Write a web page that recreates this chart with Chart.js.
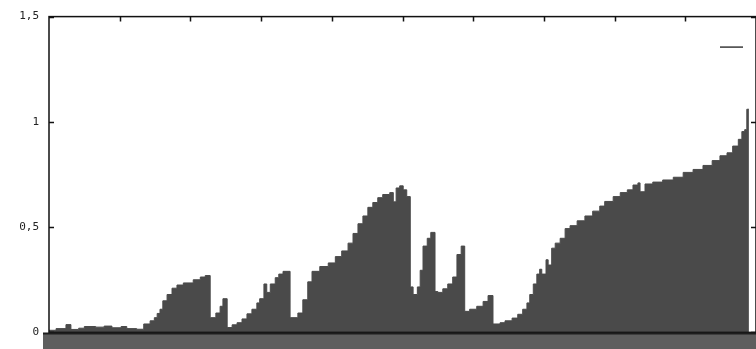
<!DOCTYPE html>
<html>
<head>
<meta charset="utf-8">
<script src="https://cdn.jsdelivr.net/npm/chart.js@4.4.1/dist/chart.umd.min.js"></script>
<style>
  html, body { margin: 0; padding: 0; background: #fff; }
  canvas { display: block; }
</style>
</head>
<body>
<canvas id="chart" width="756" height="349"></canvas>
<script>
// start of each step on the x axis (0..100) and its height
const binStart = [
  0, 1.0, 2.4, 3.1, 4.2, 5.0, 6.6, 7.8, 8.9, 10.2, 11.0, 12.4, 13.4, 14.3, 14.9, 15.3,
  15.7, 16.1, 16.7, 17.4, 18.1, 19.0, 20.4, 21.4, 22.1, 22.8, 23.6, 24.2, 24.6, 25.2,
  25.9, 26.6, 27.3, 28.0, 28.7, 29.4, 29.8, 30.4, 30.8, 31.3, 32.0, 32.5, 33.1, 34.1,
  35.2, 35.9, 36.6, 37.2, 38.3, 39.5, 40.5, 41.4, 42.3, 43.0, 43.7, 44.4, 45.1, 45.8,
  46.5, 47.2, 48.2, 48.7, 49.1, 49.6, 50.1, 50.6, 51.1, 51.5, 52.1, 52.5, 52.9, 53.5,
  54.0, 54.6, 55.0, 55.7, 56.4, 57.1, 57.7, 58.3, 58.8, 59.5, 60.5, 61.4, 62.1, 62.8,
  63.8, 64.5, 65.5, 66.3, 67.0, 67.6, 68.0, 68.5, 69.0, 69.4, 69.7, 70.3, 70.6, 71.1,
  71.6, 72.3, 73.0, 73.7, 74.7, 75.8, 76.9, 77.9, 78.6, 79.8, 80.8, 81.8, 82.6, 83.3,
  83.6, 84.3, 85.4, 86.8, 88.3, 89.7, 91.1, 92.5, 93.8, 94.9, 95.9, 96.7, 97.5, 98.0,
  98.4, 98.7, 99.0
];
const binValue = [
  0.01, 0.018, 0.037, 0.014, 0.02, 0.028, 0.025, 0.03, 0.022, 0.028, 0.018, 0.015, 0.04, 0.055, 0.07, 0.09,
  0.11, 0.15, 0.18, 0.21, 0.225, 0.235, 0.25, 0.263, 0.27, 0.07, 0.092, 0.124, 0.16, 0.023,
  0.036, 0.046, 0.064, 0.088, 0.11, 0.14, 0.16, 0.23, 0.19, 0.23, 0.26, 0.277, 0.29, 0.07,
  0.092, 0.155, 0.24, 0.29, 0.313, 0.33, 0.36, 0.387, 0.424, 0.47, 0.516, 0.553, 0.594, 0.617,
  0.64, 0.655, 0.664, 0.62, 0.686, 0.696, 0.677, 0.645, 0.216, 0.18, 0.216, 0.295, 0.41, 0.447,
  0.475, 0.194, 0.19, 0.207, 0.23, 0.263, 0.37, 0.41, 0.1, 0.11, 0.124, 0.147, 0.175, 0.04,
  0.046, 0.055, 0.068, 0.086, 0.11, 0.14, 0.18, 0.23, 0.277, 0.3, 0.277, 0.345, 0.32, 0.4,
  0.424, 0.447, 0.493, 0.507, 0.53, 0.553, 0.576, 0.6, 0.622, 0.645, 0.664, 0.677, 0.7, 0.71,
  0.668, 0.705, 0.714, 0.724, 0.737, 0.76, 0.774, 0.793, 0.816, 0.839, 0.853, 0.885, 0.917, 0.954,
  0.963, 1.06, 1.06
];
const yTickValues = [0, 0.5, 1, 1.5];
const yTickLabels = ['0', '0,5', '1', '1,5'];
const xTickValues = [10, 20, 30, 40, 50, 60, 70, 80, 90];

const fillColor = '#4a4a4a';

const points = binStart.map((x, i) => ({ x: x, y: binValue[i] }));

// gnuplot style frame: box, inward ticks, empty key sample, grey strip under the axis
const framePlugin = {
  id: 'frame',
  afterDatasetsDraw(chart) {
    const ctx = chart.ctx;
    const a = chart.chartArea;
    const xs = chart.scales.x;
    const ys = chart.scales.y;
    ctx.save();

    ctx.strokeStyle = '#111';
    ctx.lineWidth = 1.5;
    ctx.strokeRect(a.left, a.top, a.right - a.left, a.bottom - a.top);

    ctx.beginPath();
    xTickValues.forEach(v => {
      const px = Math.round(xs.getPixelForValue(v)) + 0.5;
      ctx.moveTo(px, a.top);
      ctx.lineTo(px, a.top + 5);
    });
    yTickValues.forEach(v => {
      const py = Math.round(ys.getPixelForValue(v)) + 0.5;
      ctx.moveTo(a.left, py);
      ctx.lineTo(a.left + 5, py);
      ctx.moveTo(a.right, py);
      ctx.lineTo(a.right - 5, py);
    });
    ctx.lineWidth = 1.5;
    ctx.stroke();

    // key sample (no title)
    ctx.beginPath();
    ctx.strokeStyle = '#3a3a3a';
    ctx.lineWidth = 1.5;
    ctx.moveTo(a.right - 36, a.top + 30.5);
    ctx.lineTo(a.right - 13, a.top + 30.5);
    ctx.stroke();

    // strip below the x axis
    ctx.fillStyle = '#5e5e5e';
    ctx.fillRect(a.left - 6, a.bottom + 1, chart.width - a.left + 6, chart.height - a.bottom - 1);
    ctx.beginPath();
    ctx.strokeStyle = '#1e1e1e';
    ctx.lineWidth = 2;
    ctx.moveTo(a.left - 6, a.bottom + 1);
    ctx.lineTo(chart.width, a.bottom + 1);
    ctx.stroke();

    ctx.restore();
  }
};

new Chart(document.getElementById('chart'), {
  type: 'line',
  data: {
    datasets: [{
      label: '',
      data: points,
      stepped: 'before',
      fill: 'origin',
      backgroundColor: fillColor,
      borderColor: fillColor,
      borderWidth: 1,
      pointRadius: 0,
      tension: 0
    }]
  },
  options: {
    responsive: false,
    animation: false,
    devicePixelRatio: 1,
    layout: { padding: { left: 0, right: 0, top: 11, bottom: 12 } },
    plugins: {
      legend: { display: false },
      tooltip: { enabled: false }
    },
    scales: {
      x: {
        type: 'linear',
        min: 0,
        max: 100,
        ticks: { display: false },
        grid: { display: false, drawTicks: false },
        border: { display: false },
        afterFit: s => { s.height = 0; }
      },
      y: {
        type: 'linear',
        min: 0,
        max: 1.5,
        afterFit: s => { s.width = 49; },
        afterBuildTicks: s => { s.ticks = yTickValues.map(v => ({ value: v })); },
        ticks: {
          padding: 10,
          color: '#222',
          font: { family: 'DejaVu Sans Mono', size: 11 },
          callback: v => yTickLabels[yTickValues.indexOf(v)]
        },
        grid: { display: false, drawTicks: false },
        border: { display: false }
      }
    }
  },
  plugins: [framePlugin]
});
</script>
</body>
</html>
